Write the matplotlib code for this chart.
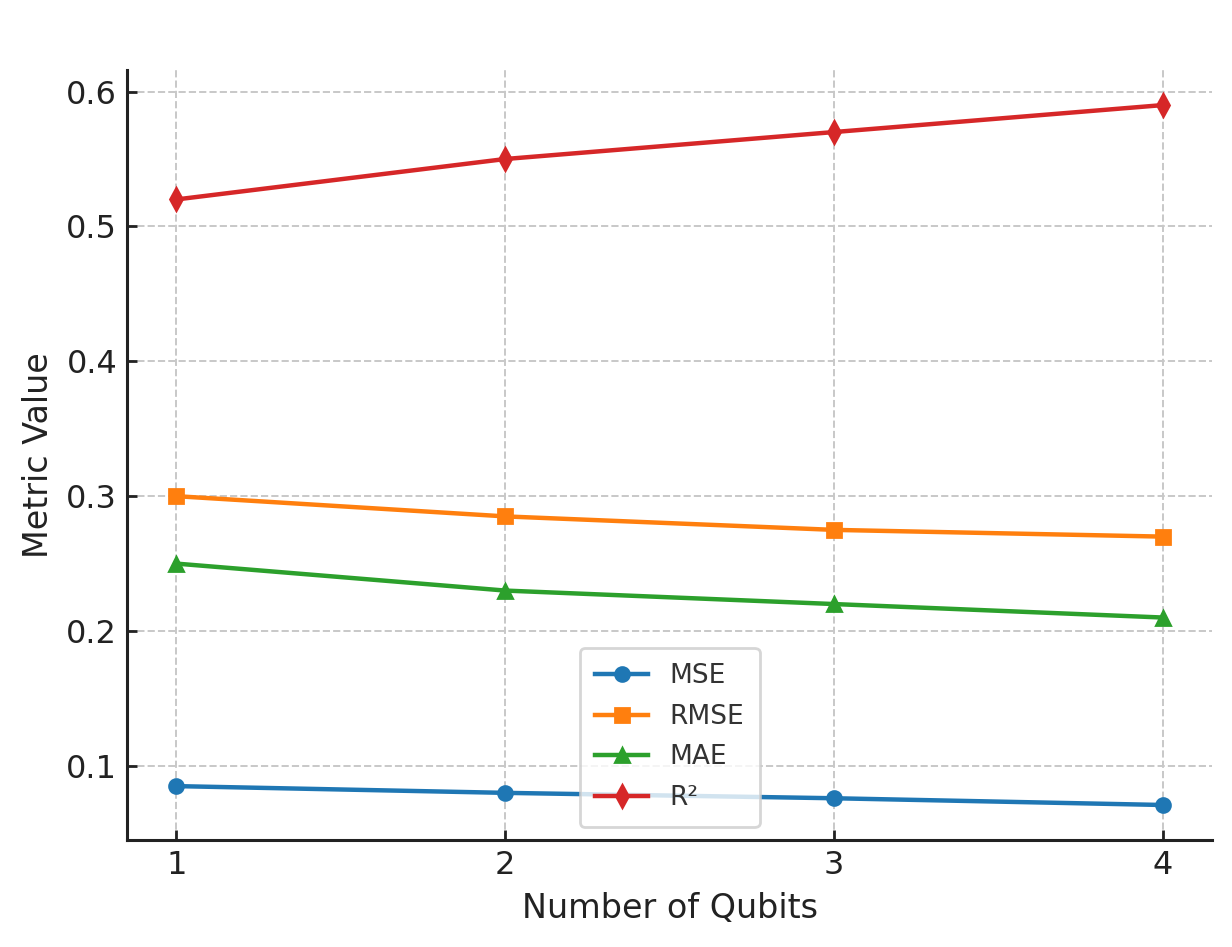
import matplotlib.pyplot as plt

qubits = [1, 2, 3, 4]
mse = [0.085, 0.080, 0.076, 0.071]
rmse = [0.300, 0.285, 0.275, 0.270]
mae = [0.250, 0.230, 0.220, 0.210]
r2 = [0.520, 0.550, 0.570, 0.590]

fig, ax = plt.subplots(figsize=(6.16, 4.735), dpi=200)

ax.plot(qubits, mse, marker="o", color="#1f77b4", lw=1.6, ms=5, label="MSE")
ax.plot(qubits, rmse, marker="s", color="#ff7f0e", lw=1.6, ms=5, label="RMSE")
ax.plot(qubits, mae, marker="^", color="#2ca02c", lw=1.6, ms=5, label="MAE")
ax.plot(qubits, r2, marker="d", color="#d62728", lw=1.6, ms=5.5, label="R²")

ax.set_xticks(qubits)
ax.set_xlabel("Number of Qubits", fontsize=12, color="#222222")
ax.set_ylabel("Metric Value", fontsize=12, color="#222222")
ax.tick_params(direction="in", length=3.5, width=1, labelsize=11.5, colors="#222222")
ax.grid(True, linestyle="--", color="#c8c8c8", linewidth=0.7)
ax.spines["top"].set_visible(False)
ax.spines["right"].set_visible(False)
for s in ("left", "bottom"):
    ax.spines[s].set_linewidth(1.1)
    ax.spines[s].set_color("#222222")

leg = ax.legend(loc="lower center", fontsize=9.5, framealpha=0.8, edgecolor="#cccccc",
                borderpad=0.6, labelspacing=0.55, handlelength=2.0)
for t in leg.get_texts():
    t.set_color("#333333")

fig.subplots_adjust(left=0.103, right=0.984, top=0.926, bottom=0.113)
fig.savefig("out.png", dpi=200)
